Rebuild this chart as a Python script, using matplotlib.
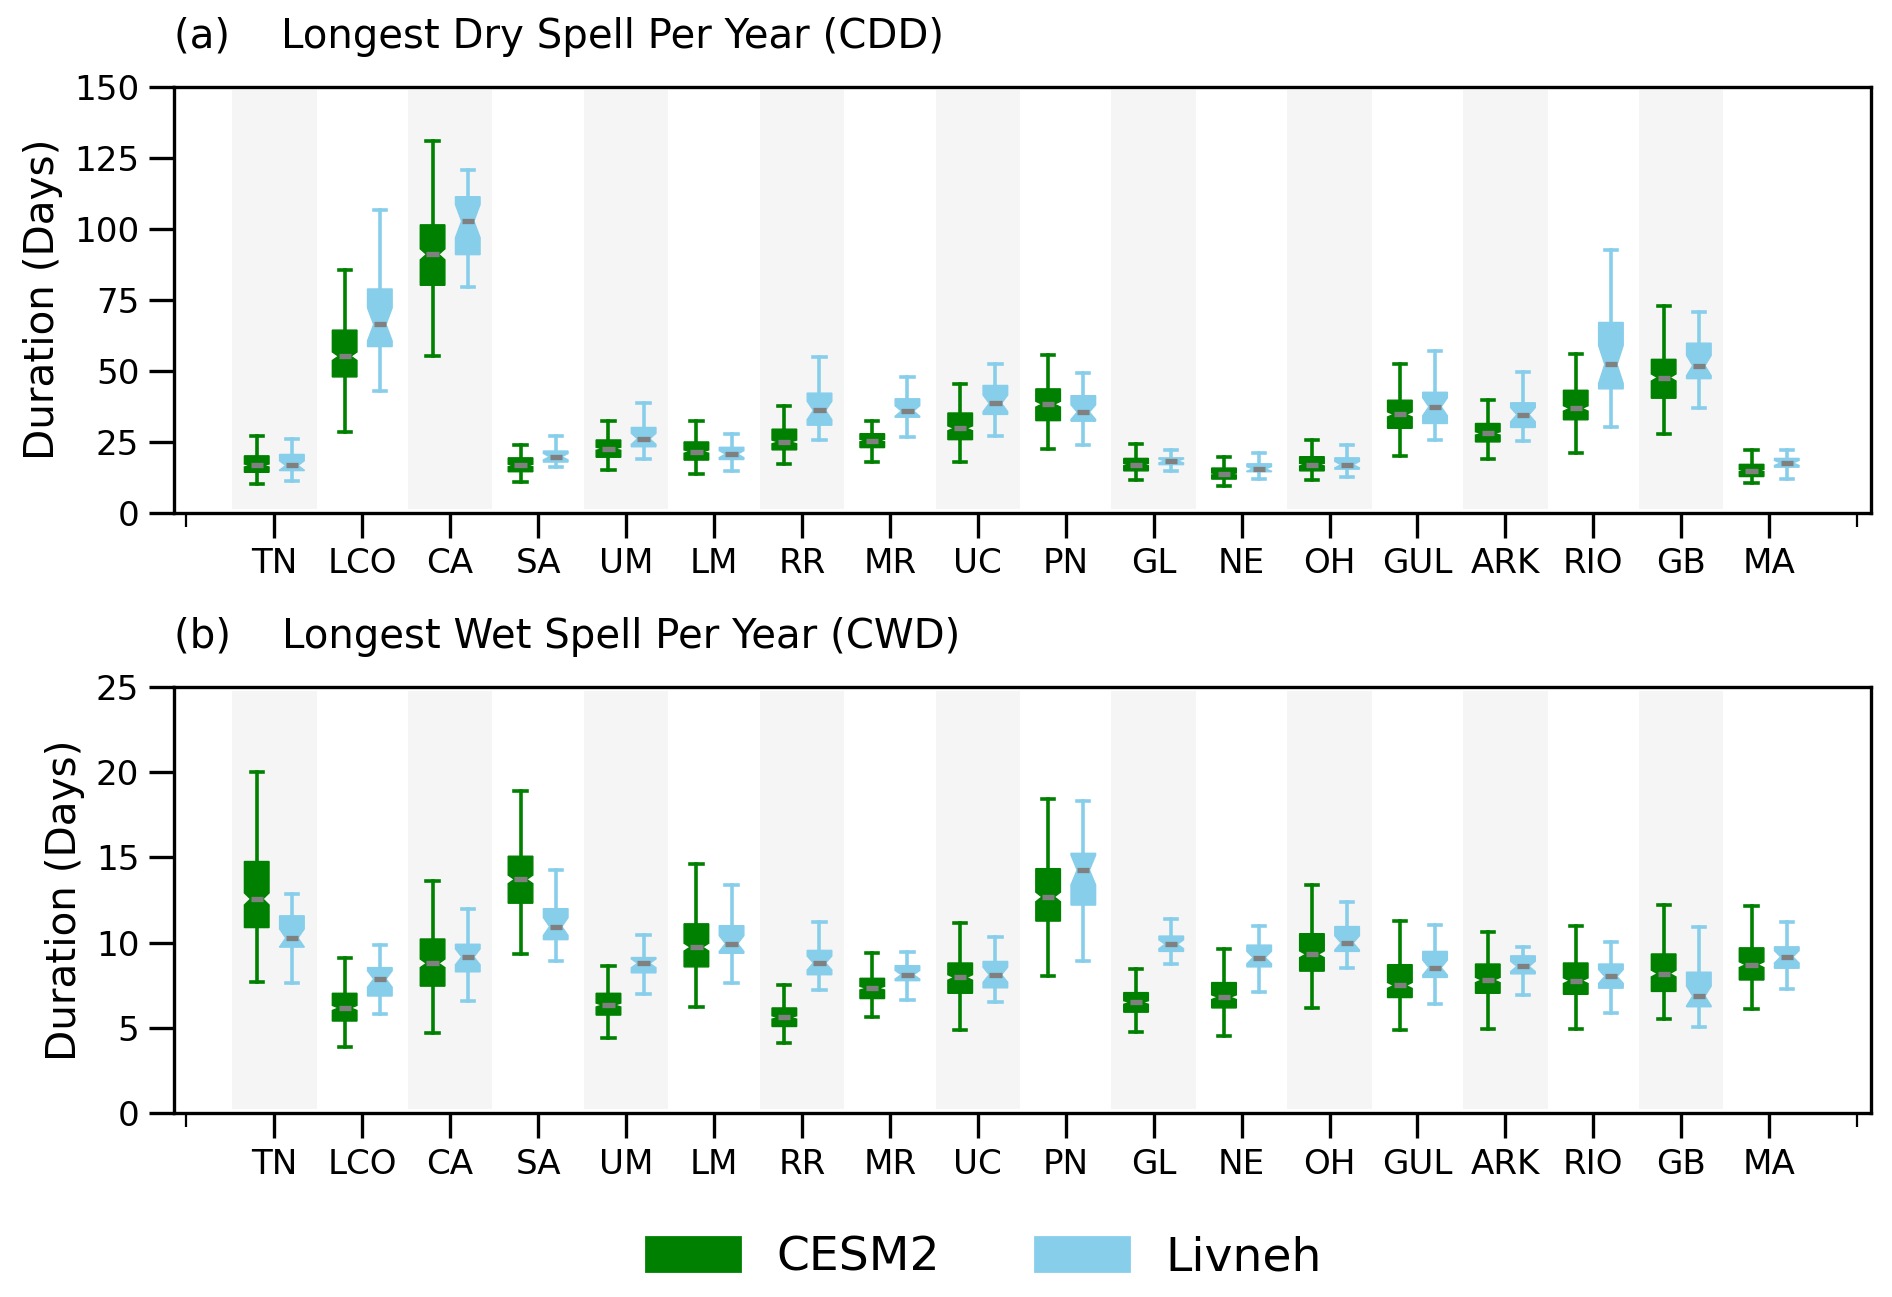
import matplotlib.pyplot as plt
from matplotlib.patches import Patch
import numpy as np

regions = ['TN', 'LCO', 'CA', 'SA', 'UM', 'LM', 'RR', 'MR', 'UC',
           'PN', 'GL', 'NE', 'OH', 'GUL', 'ARK', 'RIO', 'GB', 'MA']

# box stats: [whisker low, q1, median, q3, whisker high]
cdd_cesm2 = [[10, 14.2, 16.6, 20, 27], [28.4, 47.8, 55.1, 64.3, 85.5],
             [55.1, 80.1, 91, 101.4, 131], [10.8, 14.4, 16.6, 19.3, 23.9],
             [15, 19.5, 22.5, 25.6, 32.3], [13.6, 18.5, 21.5, 24.9, 32.2],
             [17.2, 22.1, 24.9, 29.4, 37.6], [17.8, 22.9, 25.4, 27.8, 32.4],
             [17.8, 25.7, 29.7, 35.1, 45.4], [22.5, 32.4, 38.2, 43.6, 55.5],
             [11.5, 14.7, 16.9, 19.1, 24.3], [9.3, 11.8, 13.6, 15.7, 19.7],
             [11.5, 14.7, 16.9, 19.7, 25.5], [20, 29.7, 34.6, 39.6, 52.3],
             [19, 24.9, 27.9, 31.4, 39.7], [20.9, 32.7, 36.7, 43.1, 55.8],
             [27.8, 40.3, 47.6, 54, 72.7], [10.6, 12.7, 14.8, 17, 21.9]]
cdd_livneh = [[11.2, 14.8, 16.6, 20.5, 26], [43, 58.5, 66.3, 78.8, 106.5],
              [79.5, 90.9, 102.7, 111.3, 120.8], [16, 17.8, 19.7, 21.7, 27],
              [19, 23.2, 26, 30, 38.7], [14.7, 18.7, 20.6, 23, 27.8],
              [25.7, 30.8, 36, 42.1, 54.9], [26.6, 33.6, 35.8, 40.1, 47.8],
              [27, 34.6, 38.5, 44.8, 52.4], [23.7, 32.2, 35.4, 41.2, 49.2],
              [14.8, 16.9, 18.2, 19.3, 22.1], [12, 14.4, 15.4, 17.2, 20.9],
              [12.7, 15.3, 16.9, 19.3, 23.8], [25.5, 31.4, 37.3, 42.4, 56.9],
              [25.4, 30, 34.5, 38.7, 49.4], [30.2, 43.6, 52.2, 67, 92.5],
              [37, 47.2, 51.8, 59.7, 70.7], [11.8, 16, 17.5, 19.1, 22.1]]
cwd_cesm2 = [[7.7, 10.88, 12.56, 14.76, 20], [3.86, 5.39, 6.16, 7.02, 9.12],
             [4.7, 7.44, 8.78, 10.21, 13.6], [9.33, 12.31, 13.71, 15.07, 18.9],
             [4.4, 5.74, 6.33, 7.02, 8.64], [6.23, 8.57, 9.73, 11.1, 14.6],
             [4.09, 5.07, 5.6, 6.16, 7.48], [5.6, 6.71, 7.32, 7.9, 9.37],
             [4.86, 7.02, 7.95, 8.8, 11.15], [8.05, 11.26, 12.68, 14.34, 18.43],
             [4.76, 5.91, 6.48, 7.06, 8.43], [4.49, 6.16, 6.79, 7.65, 9.62],
             [6.18, 8.32, 9.31, 10.52, 13.4], [4.84, 6.77, 7.48, 8.7, 11.26],
             [4.93, 7.02, 7.8, 8.74, 10.63], [4.93, 6.96, 7.76, 8.8, 11.0],
             [5.49, 7.13, 8.18, 9.33, 12.2], [6.12, 7.8, 8.7, 9.69, 12.14]]
cwd_livneh = [[7.65, 9.73, 10.27, 11.57, 12.83], [5.81, 6.86, 7.86, 8.53, 9.83],
              [6.54, 8.28, 9.16, 9.9, 11.95], [8.91, 10.17, 10.94, 11.99, 14.26],
              [6.96, 8.22, 8.78, 9.12, 10.42], [7.65, 9.37, 9.94, 10.99, 13.4],
              [7.21, 8.11, 8.8, 9.54, 11.19], [6.65, 7.76, 8.11, 8.64, 9.43],
              [6.48, 7.34, 8.11, 8.89, 10.31], [8.91, 12.2, 14.26, 15.24, 18.32],
              [8.74, 9.48, 9.9, 10.38, 11.36], [7.11, 8.57, 9.12, 9.85, 11.0],
              [8.49, 9.48, 9.98, 10.94, 12.37], [6.39, 7.95, 8.53, 9.48, 11.05],
              [6.92, 8.16, 8.6, 9.22, 9.75], [5.85, 7.32, 8.01, 8.74, 10.04],
              [5.03, 6.23, 6.86, 8.26, 10.94], [7.27, 8.49, 9.16, 9.75, 11.22]]

# sample sizes used for the notch (ensemble years vs observed years)
n_cesm2 = 300
n_livneh = 30
green = '#008000'
blue = '#87CEEB'


def make_stats(rows, n):
    out = []
    for lo, q1, med, q3, hi in rows:
        ci = 1.57 * (q3 - q1) / np.sqrt(n)
        out.append(dict(whislo=lo, q1=q1, med=med, q3=q3, whishi=hi,
                        cilo=med - ci, cihi=med + ci, fliers=[]))
    return out


def draw_boxes(ax, rows, n, pos, c):
    ax.bxp(make_stats(rows, n), positions=pos, widths=0.28, patch_artist=True,
           shownotches=True, showfliers=False, manage_ticks=False,
           boxprops=dict(facecolor=c, edgecolor=c, linewidth=0.5),
           whiskerprops=dict(color=c, linewidth=1.3),
           capprops=dict(color=c, linewidth=1.3),
           medianprops=dict(color='gray', linewidth=1.9))


fig, axes = plt.subplots(2, 1, figsize=(9.46, 6.485), dpi=200)
plt.subplots_adjust(left=0.092, right=0.989, top=0.933, bottom=0.142, hspace=0.41)

x = np.arange(1, len(regions) + 1)
panels = [(axes[0], cdd_cesm2, cdd_livneh, 150, 25, '(a)    Longest Dry Spell Per Year (CDD)'),
          (axes[1], cwd_cesm2, cwd_livneh, 25, 5, '(b)    Longest Wet Spell Per Year (CWD)')]

for ax, cesm, liv, ytop, ystep, title in panels:
    for i in x[::2]:
        ax.axvspan(i - 0.48, i + 0.48, ymin=0.008, ymax=0.992,
                   color='#f5f5f5', lw=0, zorder=0)
    draw_boxes(ax, cesm, n_cesm2, x - 0.2, green)
    draw_boxes(ax, liv, n_livneh, x + 0.2, blue)
    ax.set_xlim(-0.14, 19.16)
    ax.set_ylim(0, ytop)
    ax.set_yticks(np.arange(0, ytop + 1, ystep))
    ax.set_xticks(x)
    ax.set_xticklabels(regions)
    ax.set_xticks([0, 19], minor=True)
    ax.tick_params(axis='both', which='major', labelsize=12.3, length=9, width=1.2)
    ax.tick_params(axis='x', which='minor', length=5, width=0.8)
    ax.set_ylabel('Duration (Days)', fontsize=14.6)
    ax.set_title(title, loc='left', fontsize=14.5, pad=14)
    for s in ax.spines.values():
        s.set_linewidth(1.2)

handles = [Patch(facecolor=green, edgecolor=green, label='CESM2'),
           Patch(facecolor=blue, edgecolor=blue, label='Livneh')]
fig.legend(handles=handles, loc='center', bbox_to_anchor=(0.52, 0.03),
           ncol=2, frameon=False, fontsize=17, handlelength=2.0,
           handleheight=0.75, handletextpad=0.77, columnspacing=2.0)

fig.savefig('out.png', dpi=200)
